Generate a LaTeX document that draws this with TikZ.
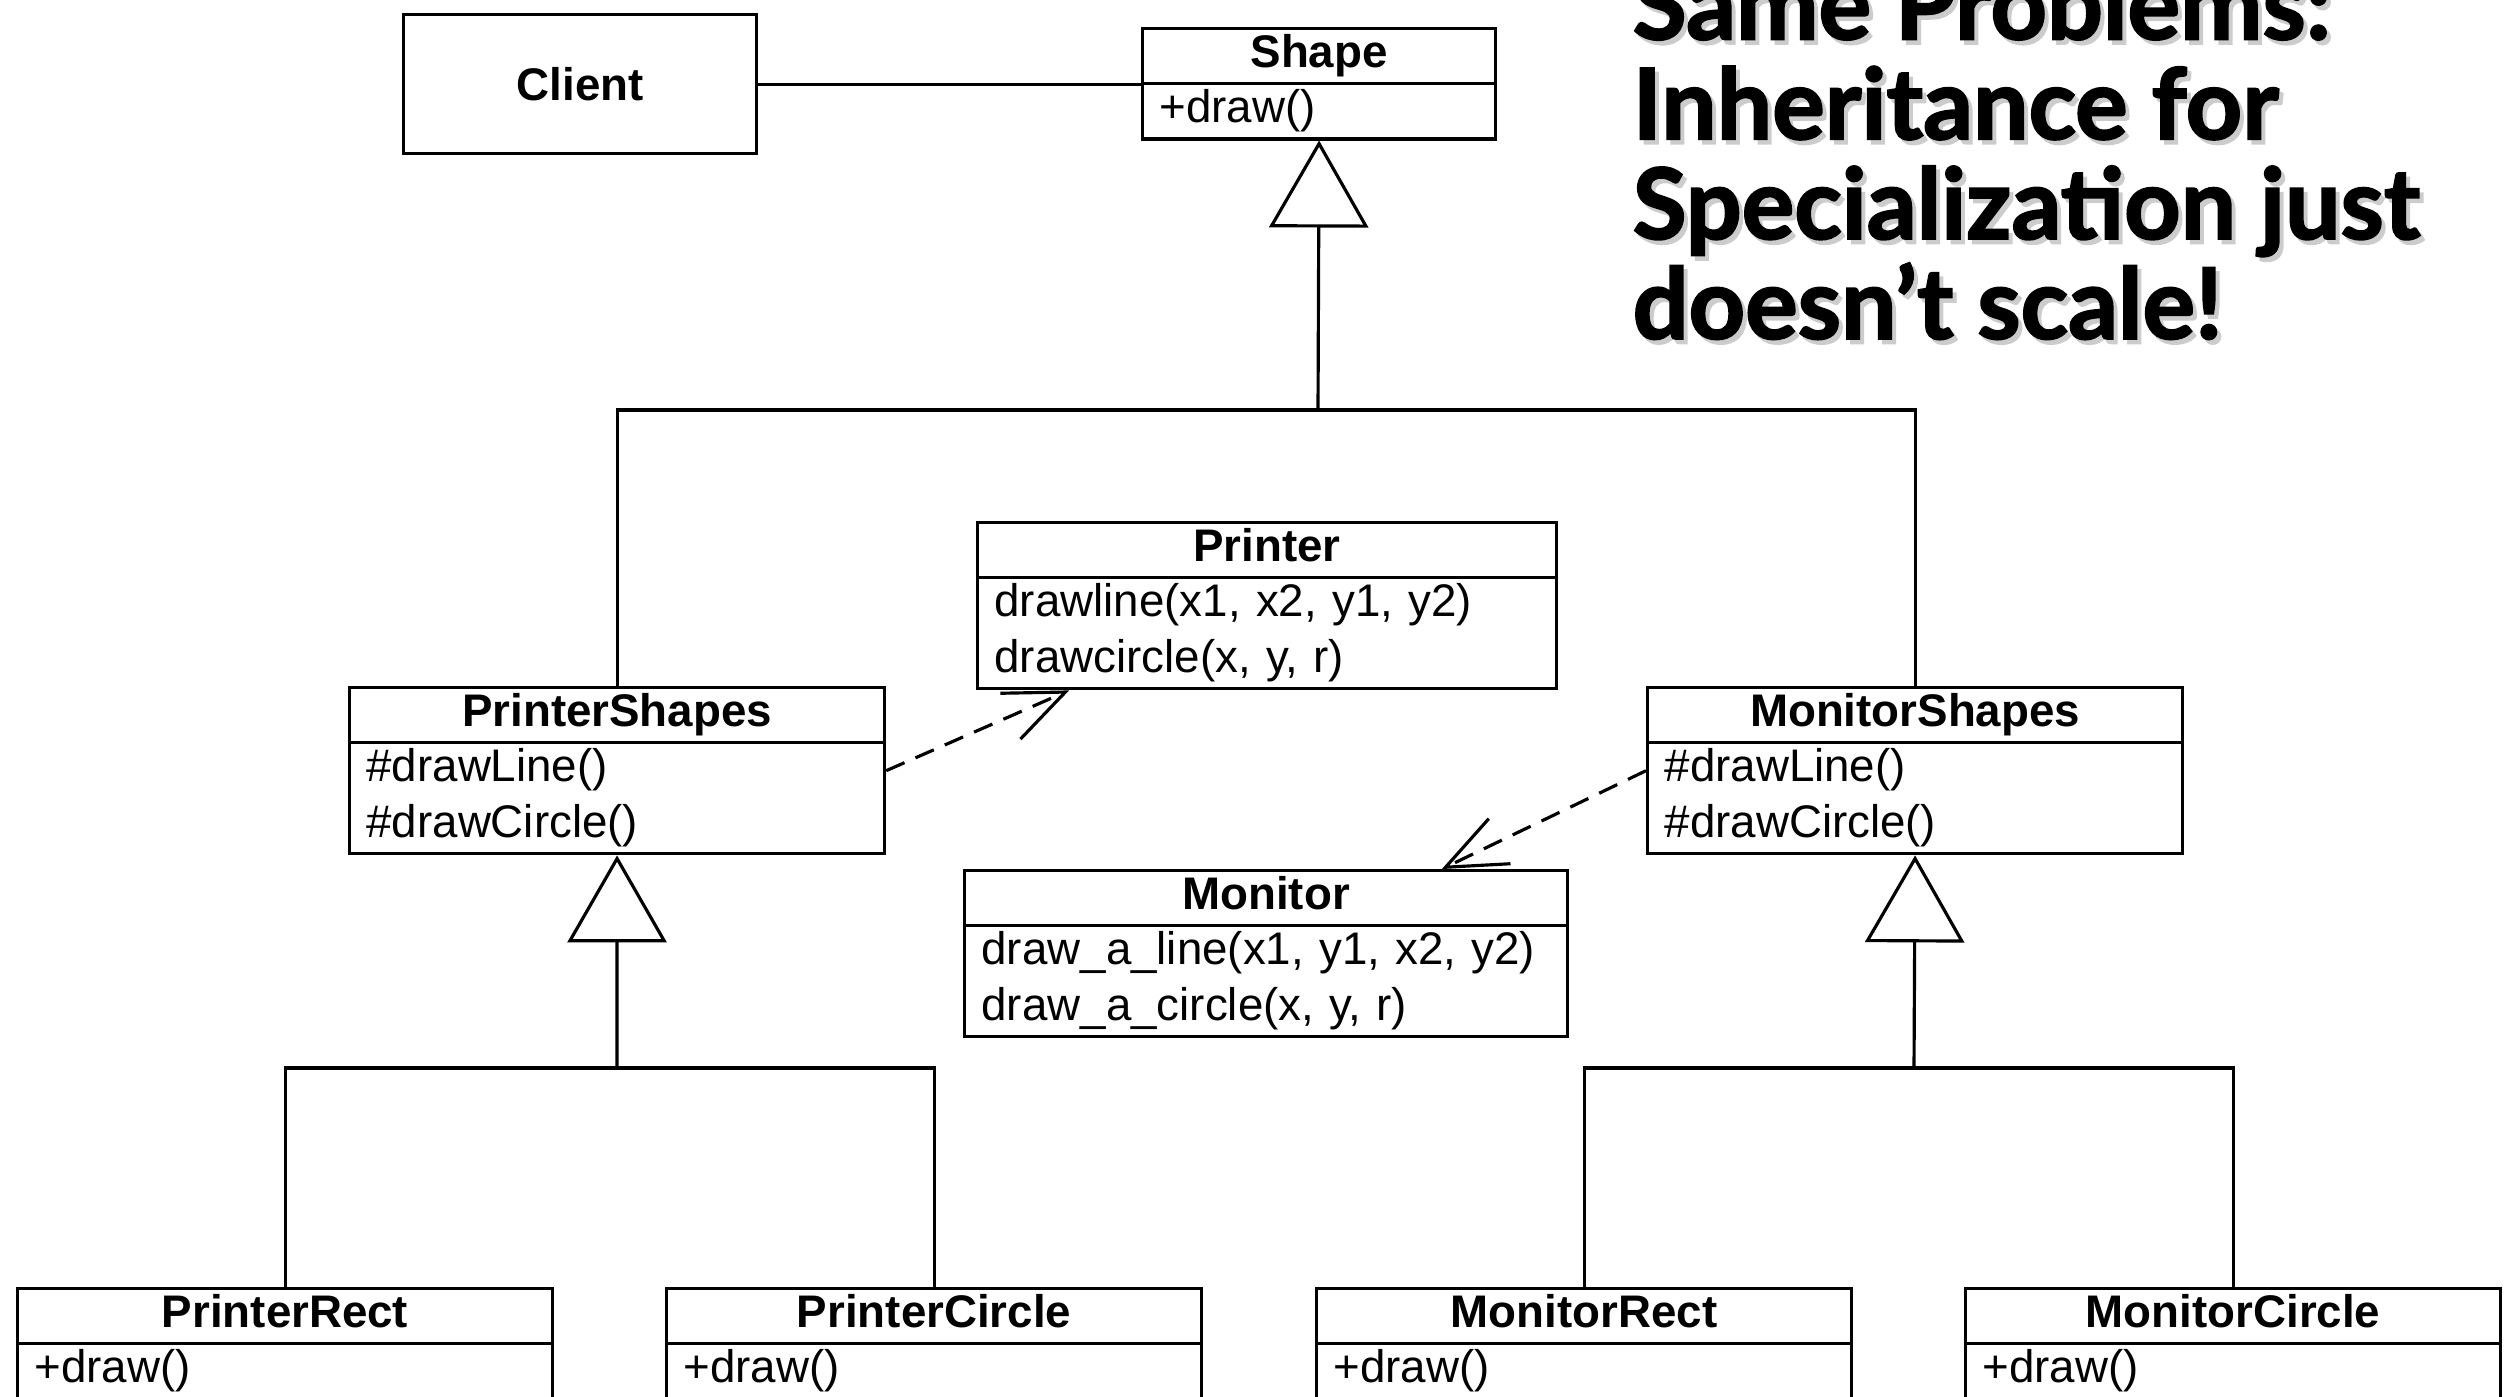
\documentclass[tikz,border=0pt]{standalone}
\usepackage{fontspec}
\setmainfont{Liberation Sans}
\newfontfamily\slogfont[BoldFeatures={FakeBold=2}]{Lato}
\usetikzlibrary{shapes.multipart,arrows.meta,calc}

\newcommand{\cstrut}{\rule[-0.13cm]{0pt}{0.48cm}}

\tikzset{
	umlclass/.style = {draw, line width = 0.9pt, rectangle split, rectangle split parts = 2,
		inner xsep = 0.17cm, inner ysep = 0.02cm, align = left, anchor = north west,
		font = \fontsize{13}{15.9}\selectfont},
	line/.style = {line width = 0.9pt},
	inherit/.style = {line width = 0.9pt, -{Triangle[open, length = 0.87cm, width = 0.99cm]}},
	dep/.style = {line width = 0.9pt, dash pattern = on 0.2cm off 0.12cm,
		-{Straight Barb[length = 0.6cm, width = 0.5cm]}},
	slogan/.style = {font = \slogfont\bfseries\fontsize{28}{28.4}\selectfont, align = left,
		anchor = north west, inner sep = 0pt}
}

\begin{document}
\begin{tikzpicture}
	%	frame
	\path[use as bounding box] (0, 0) rectangle (25.14, -13.96);
	\clip (0, 0) rectangle (25.14, -13.96);

	%	widths
	\def\ws{3.19cm}
	\def\wb{5.01cm}

	%	top
	\node[draw, line width = 0.9pt, text width = \ws, minimum height = 1.39cm, align = center,
		anchor = north west, inner xsep = 0.17cm, font = \fontsize{13}{15.3}\selectfont\bfseries]
		(client) at (4.02, -0.13) {Client};
	\node[umlclass, text width = \ws] (shape) at (11.41, -0.27)
		{{\centering\bfseries\cstrut Shape\par}\nodepart{second}\cstrut +draw()};

	%	middle
	\node[umlclass, text width = 5.45cm] (printer) at (9.76, -5.21)
		{{\centering\bfseries\cstrut Printer\par}\nodepart{second}\cstrut drawline(x1, x2, y1, y2)\\\cstrut drawcircle(x, y, r)};
	\node[umlclass, text width = \wb] (psh) at (3.48, -6.86)
		{{\centering\bfseries\cstrut PrinterShapes\par}\nodepart{second}\cstrut \#drawLine()\\\cstrut \#drawCircle()};
	\node[umlclass, text width = \wb] (msh) at (16.46, -6.86)
		{{\centering\bfseries\cstrut MonitorShapes\par}\nodepart{second}\cstrut \#drawLine()\\\cstrut \#drawCircle()};
	\node[umlclass, text width = 5.69cm] (monitor) at (9.63, -8.69)
		{{\centering\bfseries\cstrut Monitor\par}\nodepart{second}\cstrut draw\_a\_line(x1, y1, x2, y2)\\\cstrut draw\_a\_circle(x, y, r)};

	%	bottom
	\node[umlclass, text width = \wb] (prect) at (0.16, -12.87)
		{{\centering\bfseries\cstrut PrinterRect\par}\nodepart{second}\cstrut +draw()};
	\node[umlclass, text width = \wb] (pcirc) at (6.65, -12.87)
		{{\centering\bfseries\cstrut PrinterCircle\par}\nodepart{second}\cstrut +draw()};
	\node[umlclass, text width = \wb] (mrect) at (13.15, -12.87)
		{{\centering\bfseries\cstrut MonitorRect\par}\nodepart{second}\cstrut +draw()};
	\node[umlclass, text width = \wb] (mcirc) at (19.64, -12.87)
		{{\centering\bfseries\cstrut MonitorCircle\par}\nodepart{second}\cstrut +draw()};

	%	slogan
	\node[slogan, text = black!20] (sloganshadow) at (16.36, 0.30)
		{Same Problems:\\Inheritance for\\Specialization just\\doesn’t scale!};
	\node[slogan] (slogan) at (16.32, 0.345)
		{Same Problems:\\Inheritance for\\Specialization just\\doesn’t scale!};

	%	junctions
	\coordinate (jtop) at (13.18, -4.10);
	\coordinate (jleft) at (6.17, -10.68);
	\coordinate (jright) at (19.14, -10.68);

	%	association
	\draw[line] (client.east) -- (client.east -| shape.west);

	%	generalisation
	\draw[line] (psh.north) |- (jtop) -| (msh.north);
	\draw[inherit] (jtop) -- (shape.south);
	\draw[line] (prect.north) |- (jleft) -| (pcirc.north);
	\draw[inherit] (jleft) -- (psh.south);
	\draw[line] (mrect.north) |- (jright) -| (mcirc.north);
	\draw[inherit] (jright) -- (msh.south);

	%	dependencies
	\draw[dep] (psh.east) -- ($(printer.south west)!0.16!(printer.south east)$);
	\draw[dep] (msh.west) -- ($(monitor.north west)!0.79!(monitor.north east)$);
\end{tikzpicture}
\end{document}
